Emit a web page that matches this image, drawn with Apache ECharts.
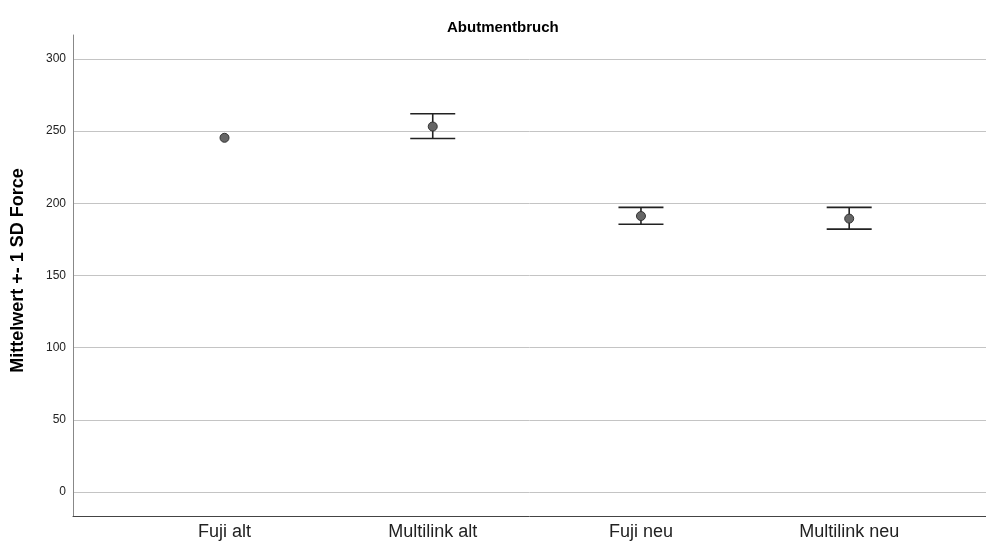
<!DOCTYPE html>
<html>
<head>
<meta charset="utf-8">
<script src="https://cdn.jsdelivr.net/npm/echarts@6/dist/echarts.min.js"></script>
<style>
html,body{margin:0;padding:0;background:#fff;}
#c{width:986px;height:544px;}
</style>
</head>
<body>
<div id="c"></div>
<script>
const categories = ['Fuji alt', 'Multilink alt', 'Fuji neu', 'Multilink neu'];
const means = [245.4, 253.2, 191.2, 189.4];
const lowerSD = [null, 244.9, 185.5, 182.1];
const upperSD = [null, 262.0, 197.2, 197.2];
const yMin = -16.6;
const yMax = 316.6;

const errData = [];
categories.forEach((c, i) => {
  if (lowerSD[i] != null && upperSD[i] != null) errData.push([i, lowerSD[i], upperSD[i]]);
});

const FONT = 'Liberation Sans, Arial, sans-serif';
const chart = echarts.init(document.getElementById('c'));
chart.setOption({
  animation: false,
  backgroundColor: '#fff',
  title: {
    text: 'Abutmentbruch',
    left: 442, top: 15,
    textStyle: {fontFamily: FONT, fontSize: 15, fontWeight: 'bold', color: '#000'}
  },
  grid: [
    {left: 73, right: 0, top: 35, bottom: 28, containLabel: false},
    {left: 120.4, right: 32.7, top: 35, bottom: 28, containLabel: false}
  ],
  xAxis: [
    {gridIndex: 0, type: 'value', min: 0, max: 1, show: true,
     axisLine: {show: true, onZero: false, lineStyle: {color: '#444', width: 1}},
     axisTick: {show: false}, axisLabel: {show: false}, splitLine: {show: false}},
    {gridIndex: 1, type: 'category', data: categories, boundaryGap: true,
     axisLine: {show: false}, axisTick: {show: false},
     axisLabel: {fontFamily: FONT, fontSize: 18, color: '#222', margin: 7}}
  ],
  yAxis: [
    {gridIndex: 0, type: 'value', min: yMin, max: yMax, splitNumber: 7,
     name: 'Mittelwert +- 1 SD Force', nameLocation: 'middle', nameGap: 46,
     nameTextStyle: {fontFamily: FONT, fontSize: 18, fontWeight: 'bold', color: '#000',
                     padding: [0, 0, 0, 10]},
     axisLine: {show: true, lineStyle: {color: '#888', width: 1}},
     axisTick: {show: false},
     axisLabel: {fontFamily: FONT, fontSize: 12, color: '#222', margin: 7,
                 showMinLabel: false, showMaxLabel: false},
     splitLine: {show: true, showMinLine: false, showMaxLine: false,
                 lineStyle: {color: '#c4c4c4', width: 1}}},
    {gridIndex: 1, type: 'value', min: yMin, max: yMax, show: false, splitLine: {show: false}}
  ],
  series: [
    {
      type: 'custom', xAxisIndex: 1, yAxisIndex: 1, z: 2,
      data: errData,
      encode: {x: 0, y: [1, 2]},
      renderItem: function (params, api) {
        const i = api.value(0);
        const lo = api.coord([i, api.value(1)]);
        const hi = api.coord([i, api.value(2)]);
        const hw = 22.5;
        const st = {stroke: '#222', lineWidth: 1.6};
        return {type: 'group', children: [
          {type: 'line', shape: {x1: lo[0], y1: lo[1], x2: hi[0], y2: hi[1]}, style: st},
          {type: 'line', shape: {x1: hi[0] - hw, y1: hi[1], x2: hi[0] + hw, y2: hi[1]}, style: st},
          {type: 'line', shape: {x1: lo[0] - hw, y1: lo[1], x2: lo[0] + hw, y2: lo[1]}, style: st}
        ]};
      }
    },
    {
      type: 'scatter', xAxisIndex: 1, yAxisIndex: 1, z: 3,
      data: means, symbol: 'circle', symbolSize: 9,
      itemStyle: {color: '#666', borderColor: '#333', borderWidth: 1, opacity: 1}
    }
  ]
});
</script>
</body>
</html>
